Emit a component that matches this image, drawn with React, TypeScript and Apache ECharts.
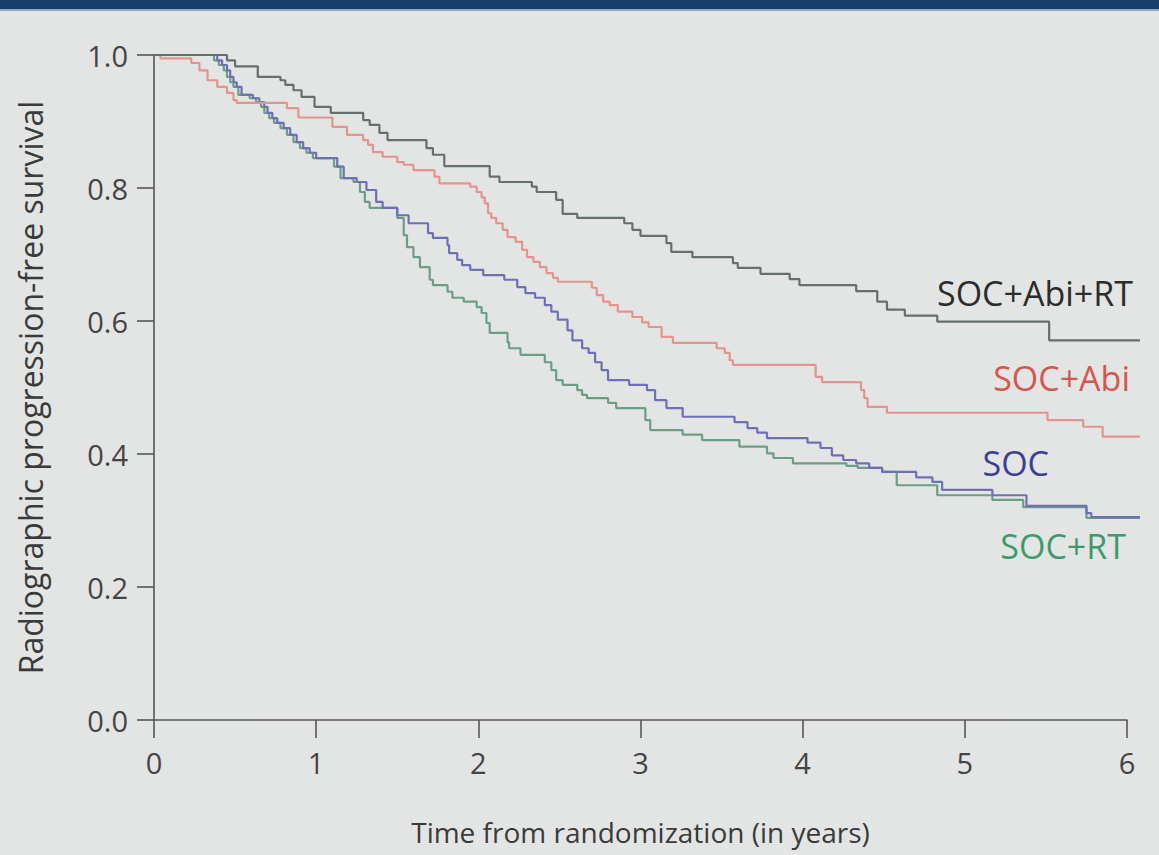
import React, { useEffect, useRef } from "react";
import * as echarts from "echarts";

// ---- Data ----
const xTicks = [0, 1, 2, 3, 4, 5, 6];
const yTicks = [0, 0.2, 0.4, 0.6, 0.8, 1.0];
const followUpEnd = 6.08;

const socAbiRtTime = [0, 0.45, 0.5, 0.64, 0.78, 0.81, 0.86, 0.91, 0.99, 1.09, 1.29, 1.33, 1.39, 1.44, 1.68, 1.72, 1.79, 2.07, 2.13, 2.33, 2.36, 2.48, 2.52, 2.61, 2.9, 2.95, 3.0, 3.16, 3.19, 3.32, 3.57, 3.6, 3.74, 3.92, 3.98, 4.33, 4.46, 4.52, 4.63, 4.83, 5.52, 6.08];
const socAbiRtSurv = [1.0, 0.992, 0.983, 0.967, 0.962, 0.955, 0.947, 0.937, 0.922, 0.913, 0.902, 0.895, 0.883, 0.872, 0.86, 0.85, 0.833, 0.817, 0.809, 0.802, 0.794, 0.782, 0.761, 0.755, 0.747, 0.737, 0.728, 0.717, 0.704, 0.696, 0.687, 0.68, 0.671, 0.663, 0.654, 0.645, 0.629, 0.617, 0.608, 0.599, 0.571, 0.571];

const socAbiTime = [0, 0.04, 0.23, 0.28, 0.33, 0.39, 0.45, 0.49, 0.51, 0.82, 0.89, 1.1, 1.19, 1.29, 1.32, 1.35, 1.41, 1.5, 1.54, 1.6, 1.73, 1.76, 1.95, 1.99, 2.02, 2.04, 2.06, 2.08, 2.11, 2.15, 2.18, 2.23, 2.27, 2.3, 2.34, 2.38, 2.42, 2.46, 2.49, 2.7, 2.73, 2.77, 2.81, 2.86, 2.95, 3.01, 3.05, 3.13, 3.2, 3.47, 3.52, 3.55, 3.57, 4.08, 4.12, 4.36, 4.38, 4.4, 4.52, 5.51, 5.73, 5.85, 6.08];
const socAbiSurv = [1.0, 0.995, 0.988, 0.977, 0.962, 0.952, 0.943, 0.932, 0.928, 0.92, 0.906, 0.892, 0.88, 0.872, 0.865, 0.854, 0.847, 0.839, 0.835, 0.827, 0.817, 0.807, 0.802, 0.794, 0.786, 0.777, 0.762, 0.755, 0.747, 0.737, 0.726, 0.719, 0.707, 0.696, 0.689, 0.681, 0.672, 0.665, 0.659, 0.65, 0.639, 0.629, 0.624, 0.614, 0.606, 0.598, 0.591, 0.576, 0.567, 0.559, 0.552, 0.541, 0.534, 0.516, 0.508, 0.496, 0.484, 0.471, 0.462, 0.451, 0.441, 0.426, 0.426];

const socTime = [0, 0.39, 0.42, 0.45, 0.47, 0.49, 0.51, 0.54, 0.61, 0.65, 0.68, 0.7, 0.73, 0.76, 0.8, 0.84, 0.88, 0.92, 0.96, 1.0, 1.13, 1.17, 1.25, 1.31, 1.37, 1.41, 1.5, 1.57, 1.69, 1.72, 1.81, 1.82, 1.87, 1.9, 1.95, 2.03, 2.16, 2.24, 2.29, 2.35, 2.41, 2.45, 2.49, 2.55, 2.58, 2.64, 2.68, 2.72, 2.76, 2.8, 2.93, 3.04, 3.09, 3.16, 3.26, 3.58, 3.66, 3.72, 3.78, 4.03, 4.11, 4.18, 4.25, 4.33, 4.41, 4.49, 4.7, 4.8, 4.86, 5.17, 5.38, 5.75, 5.78, 6.08];
const socSurv = [1.0, 0.992, 0.985, 0.977, 0.967, 0.959, 0.952, 0.94, 0.935, 0.929, 0.922, 0.913, 0.905, 0.898, 0.89, 0.88, 0.869, 0.86, 0.853, 0.845, 0.832, 0.815, 0.809, 0.797, 0.779, 0.77, 0.759, 0.747, 0.732, 0.725, 0.714, 0.702, 0.692, 0.684, 0.677, 0.669, 0.662, 0.651, 0.642, 0.635, 0.624, 0.614, 0.602, 0.586, 0.571, 0.559, 0.552, 0.538, 0.526, 0.511, 0.504, 0.496, 0.481, 0.469, 0.456, 0.448, 0.439, 0.432, 0.424, 0.417, 0.409, 0.398, 0.391, 0.386, 0.379, 0.373, 0.365, 0.358, 0.346, 0.338, 0.322, 0.311, 0.305, 0.305];

const socRtTime = [0, 0.37, 0.4, 0.43, 0.45, 0.47, 0.49, 0.52, 0.59, 0.63, 0.66, 0.68, 0.71, 0.74, 0.78, 0.82, 0.86, 0.9, 0.94, 0.98, 1.11, 1.15, 1.23, 1.27, 1.3, 1.33, 1.5, 1.54, 1.56, 1.6, 1.64, 1.7, 1.72, 1.81, 1.84, 1.91, 1.99, 2.02, 2.05, 2.07, 2.18, 2.19, 2.26, 2.41, 2.45, 2.48, 2.52, 2.61, 2.64, 2.67, 2.8, 2.85, 3.03, 3.06, 3.26, 3.38, 3.61, 3.78, 3.82, 3.94, 4.27, 4.34, 4.49, 4.58, 4.83, 5.17, 5.36, 5.75, 6.08];
const socRtSurv = [1.0, 0.992, 0.985, 0.977, 0.967, 0.959, 0.952, 0.94, 0.935, 0.929, 0.922, 0.913, 0.905, 0.898, 0.89, 0.88, 0.869, 0.86, 0.853, 0.845, 0.832, 0.815, 0.809, 0.794, 0.779, 0.77, 0.755, 0.729, 0.711, 0.696, 0.681, 0.662, 0.654, 0.644, 0.635, 0.629, 0.621, 0.612, 0.597, 0.582, 0.568, 0.559, 0.549, 0.538, 0.526, 0.511, 0.504, 0.496, 0.489, 0.484, 0.477, 0.469, 0.451, 0.436, 0.429, 0.421, 0.411, 0.401, 0.394, 0.386, 0.382, 0.379, 0.373, 0.353, 0.338, 0.331, 0.32, 0.304, 0.304];

const seriesNames = ["SOC+Abi+RT", "SOC+Abi", "SOC", "SOC+RT"];

const zip = (t: number[], s: number[]) => t.map((v, i) => [v, s[i]]);

const FONT = "'Open Sans', 'Noto Sans', sans-serif";

export default function App() {
  const ref = useRef<HTMLDivElement>(null);

  useEffect(() => {
    if (!ref.current) return;
    const chart = echarts.init(ref.current, null, { renderer: "svg" });

    const lineSeries = (name: string, data: number[][], color: string, z: number) => ({
      name,
      type: "line",
      step: "end",
      data,
      xAxisIndex: 1,
      yAxisIndex: 1,
      showSymbol: false,
      symbol: "none",
      clip: false,
      z,
      lineStyle: { color, width: 2.2 },
    });

    const axisLineStyle = { color: "#555", width: 1.6 };
    const xMax = xTicks[xTicks.length - 1];
    const pxPerYear = (1127 - 154) / xMax;
    const dataRight = 1159 - (154 + pxPerYear * followUpEnd);

    const option = {
      animation: false,
      backgroundColor: "#e3e5e4",
      grid: [
        { left: 154, right: 32, top: 55, bottom: 135, containLabel: false },
        { left: 154, right: dataRight, top: 55, bottom: 135, containLabel: false },
      ],
      xAxis: [
        {
          type: "value",
          gridIndex: 0,
          min: xTicks[0],
          max: xMax,
          interval: 1,
          name: "Time from randomization (in years)",
          nameLocation: "middle",
          nameGap: 98,
          nameTextStyle: { fontSize: 28, color: "#3a3a3a", fontFamily: FONT },
          axisLine: { show: true, onZero: false, lineStyle: axisLineStyle },
          axisTick: { show: true, length: 18, lineStyle: axisLineStyle },
          axisLabel: { fontSize: 29, color: "#444", fontFamily: FONT, margin: 28 },
          splitLine: { show: false },
        },
        {
          type: "value",
          gridIndex: 1,
          min: 0,
          max: followUpEnd,
          show: false,
          splitLine: { show: false },
        },
      ],
      yAxis: [
        {
          type: "value",
          gridIndex: 0,
          min: yTicks[0],
          max: yTicks[yTicks.length - 1],
          interval: 0.2,
          name: "Radiographic progression-free survival",
          nameLocation: "middle",
          nameGap: 108,
          nameRotate: 90,
          nameTextStyle: { fontSize: 32, color: "#3a3a3a", fontFamily: FONT },
          axisLine: { show: true, lineStyle: axisLineStyle },
          axisTick: { show: true, length: 17, lineStyle: axisLineStyle },
          axisLabel: {
            fontSize: 29,
            color: "#444",
            fontFamily: FONT,
            margin: 26,
            formatter: (v: number) => v.toFixed(1),
          },
          splitLine: { show: false },
        },
        {
          type: "value",
          gridIndex: 1,
          min: yTicks[0],
          max: yTicks[yTicks.length - 1],
          show: false,
          splitLine: { show: false },
        },
      ],
      graphic: [
        { type: "rect", left: 0, top: 0, shape: { width: 1159, height: 9 }, style: { fill: "#17406b" } },
        { type: "rect", left: 0, top: 9, shape: { width: 1159, height: 2 }, style: { fill: "#8ea7c2" } },
        {
          type: "text", x: 1133, y: 293,
          style: { text: seriesNames[0], fill: "#2b2b2b", fontSize: 34, fontFamily: FONT, align: "right", verticalAlign: "middle" },
        },
        {
          type: "text", x: 1130, y: 378,
          style: { text: seriesNames[1], fill: "#d4574f", fontSize: 34, fontFamily: FONT, align: "right", verticalAlign: "middle" },
        },
        {
          type: "text", x: 1049, y: 463,
          style: { text: seriesNames[2], fill: "#3b3d98", fontSize: 34, fontFamily: FONT, align: "right", verticalAlign: "middle" },
        },
        {
          type: "text", x: 1126, y: 546,
          style: { text: seriesNames[3], fill: "#3c9a6c", fontSize: 34, fontFamily: FONT, align: "right", verticalAlign: "middle" },
        },
      ],
      series: [
        lineSeries(seriesNames[3], zip(socRtTime, socRtSurv), "#6b9f85", 2),
        lineSeries(seriesNames[2], zip(socTime, socSurv), "#6e70b6", 3),
        lineSeries(seriesNames[1], zip(socAbiTime, socAbiSurv), "#e3948e", 4),
        lineSeries(seriesNames[0], zip(socAbiRtTime, socAbiRtSurv), "#65706b", 5),
      ],
    };

    chart.setOption(option as any);
    return () => chart.dispose();
  }, []);

  return (
    <div
      ref={ref}
      style={{ position: "absolute", left: 0, top: 0, width: 1159, height: 855 }}
    />
  );
}
